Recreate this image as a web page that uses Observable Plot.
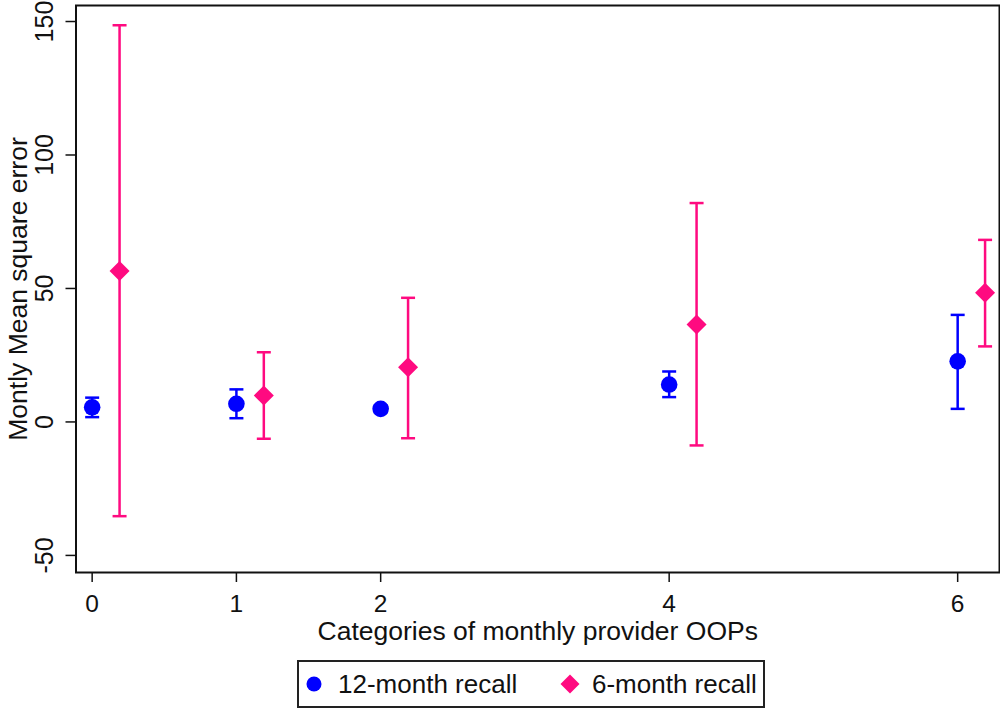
<!DOCTYPE html>
<html>
<head>
<meta charset="utf-8">
<script src="https://cdn.jsdelivr.net/npm/d3@7"></script>
<script src="https://cdn.jsdelivr.net/npm/@observablehq/plot@0.6"></script>
<style>
  html, body { margin: 0; padding: 0; background: #fff; }
  body { width: 1000px; height: 709px; position: relative; overflow: hidden; font-family: "Liberation Sans", Arial, sans-serif; }
  #chart { position: absolute; left: 0; top: 0; }
  #legend { position: absolute; left: 297px; top: 660px; width: 464px; height: 44px; border: 2px solid #222; box-sizing: content-box; }
  .item { position: absolute; top: 0; height: 44px; display: flex; align-items: center; font-size: 26px; color: #111; white-space: nowrap; }
</style>
</head>
<body>
<div id="chart"></div>
<div id="legend">
  <div class="item" style="left:6px"><svg width="18" height="18" viewBox="-9 -9 18 18" style="margin-right:15px"><circle r="7.5" fill="#0000ff"/></svg><span>12-month recall</span></div>
  <div class="item" style="left:260px"><svg width="22" height="22" viewBox="-11 -11 22 22" style="margin-right:11px"><path d="M0,-9.5L9.5,0L0,9.5L-9.5,0Z" fill="#ff0a80"/></svg><span>6-month recall</span></div>
</div>
<script>
const categories = [0, 1, 2, 4, 6];
const mean12 = [5.5, 6.8, 4.9, 14.0, 22.7];
const lo12 = [1.8, 1.4, 3.6, 9.3, 4.9];
const hi12 = [9.1, 12.2, 6.2, 18.9, 40.1];
const mean6 = [56.5, 9.9, 20.5, 36.5, 48.4];
const lo6 = [-35.3, -6.3, -6.1, -8.8, 28.3];
const hi6 = [148.6, 26.1, 46.5, 82.0, 68.2];
const offset6 = 0.19;
const xTicks = [0, 1, 2, 4, 6];
const yTicks = [-50, 0, 50, 100, 150];
const blue = "#0000ff";
const pink = "#ff0a80";

const d12 = categories.map((c, i) => ({x: c, m: mean12[i], lo: lo12[i], hi: hi12[i]}));
const d6 = categories.map((c, i) => ({x: c + offset6, m: mean6[i], lo: lo6[i], hi: hi6[i]}));

// horizontal cap symbol
const cap = {
  draw(context, size) {
    const r = Math.sqrt(size / Math.PI);
    context.moveTo(-r, 0);
    context.lineTo(r, 0);
  }
};

const fontFamily = "Liberation Sans, Arial, sans-serif";

const chart = Plot.plot({
  width: 1000,
  height: 650,
  marginTop: 5,
  marginLeft: 75.5,
  marginRight: 1,
  marginBottom: 78,
  style: {fontFamily, fontSize: "25px", color: "#111", background: "#fff"},
  x: {domain: [-0.112, 6.29], label: null},
  y: {domain: [-56.4, 156], label: null},
  marks: [
    Plot.axisX({ticks: xTicks, tickFormat: d3.format("d"), tickSize: 10, tickPadding: 12, fontSize: 24.5, label: null, strokeWidth: 1.5}),
    Plot.axisY({ticks: yTicks, tickSize: 10, tickFormat: () => "", label: null, strokeWidth: 1.5}),
    Plot.text(yTicks, {y: d => d, text: d => String(d), frameAnchor: "left", dx: -31.5, rotate: -90, textAnchor: "middle", lineAnchor: "middle", fontSize: 25}),
    Plot.text(["Montly Mean square error"], {text: d => d, frameAnchor: "left", dx: -57.5, rotate: -90, textAnchor: "middle", lineAnchor: "middle", fontSize: 26.5}),
    Plot.text(["Categories of monthly provider OOPs"], {text: d => d, frameAnchor: "bottom", dy: 59, textAnchor: "middle", lineAnchor: "middle", fontSize: 26.5}),
    // error bars
    Plot.ruleX(d12, {x: "x", y1: "lo", y2: "hi", stroke: blue, strokeWidth: 2.5}),
    Plot.dot(d12, {x: "x", y: "lo", symbol: cap, r: 7, stroke: blue, strokeWidth: 2.5}),
    Plot.dot(d12, {x: "x", y: "hi", symbol: cap, r: 7, stroke: blue, strokeWidth: 2.5}),
    Plot.ruleX(d6, {x: "x", y1: "lo", y2: "hi", stroke: pink, strokeWidth: 2.5}),
    Plot.dot(d6, {x: "x", y: "lo", symbol: cap, r: 7, stroke: pink, strokeWidth: 2.5}),
    Plot.dot(d6, {x: "x", y: "hi", symbol: cap, r: 7, stroke: pink, strokeWidth: 2.5}),
    // points
    Plot.dot(d12, {x: "x", y: "m", symbol: "circle", r: 8.3, fill: blue, stroke: null}),
    Plot.dot(d6, {x: "x", y: "m", symbol: "diamond2", r: 9, fill: pink, stroke: null}),
    Plot.frame({stroke: "#111", strokeWidth: 2})
  ]
});
document.getElementById("chart").appendChild(chart);
</script>
</body>
</html>
